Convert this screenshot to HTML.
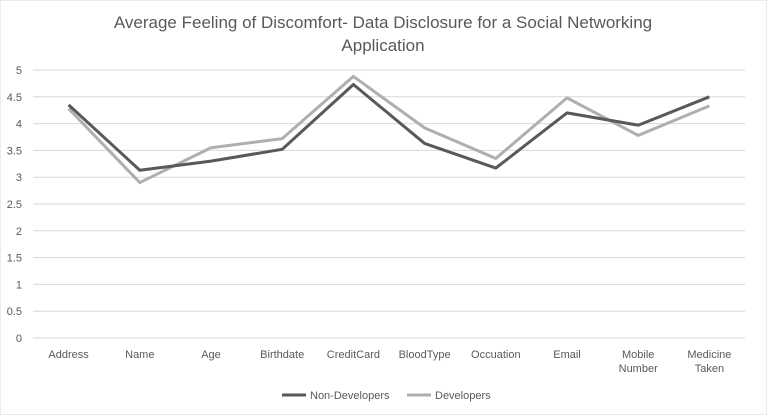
<!DOCTYPE html>
<html><head><meta charset="utf-8"><style>
body{margin:0;background:#fff;font-family:"Liberation Sans",Arial,sans-serif;}
svg text{font-family:"Liberation Sans",Arial,sans-serif;fill:#595959;}
</style></head><body>
<svg id="chart" width="767" height="415" xmlns="http://www.w3.org/2000/svg">
<rect x="0" y="0" width="767" height="415" fill="#fff" stroke="#d9d9d9"/>
<text x="383" y="28" text-anchor="middle" font-size="17">Average Feeling of Discomfort- Data Disclosure for a Social Networking</text>
<text x="383" y="51" text-anchor="middle" font-size="17">Application</text>
<g id="grid"></g><g id="series"></g><g id="xlabels"></g>
<g>
<line x1="282" y1="395" x2="306" y2="395" stroke="#595959" stroke-width="3"/>
<text x="310" y="399" font-size="11">Non-Developers</text>
<line x1="407" y1="395" x2="431" y2="395" stroke="#afafaf" stroke-width="3"/>
<text x="435" y="399" font-size="11">Developers</text>
</g>
</svg>
<script>
const categories=["Address","Name","Age","Birthdate","CreditCard","BloodType","Occuation","Email","Mobile|Number","Medicine|Taken"];
const nonDevelopers=[4.35,3.13,3.3,3.52,4.73,3.63,3.17,4.2,3.97,4.5];
const developers=[4.28,2.9,3.55,3.72,4.88,3.92,3.35,4.48,3.78,4.33];
const yTicks=[0,0.5,1,1.5,2,2.5,3,3.5,4,4.5,5];
const NS="http://www.w3.org/2000/svg";
const plotLeft=33,plotRight=745,plotTop=70,plotBottom=338;
const yScale=v=>plotBottom-(v/5)*(plotBottom-plotTop);
const step=(plotRight-plotLeft)/categories.length;
const xScale=i=>plotLeft+step*(i+0.5);
function mk(t,a,p){const e=document.createElementNS(NS,t);for(const k in a)e.setAttribute(k,a[k]);p.appendChild(e);return e;}
const grid=document.getElementById('grid');
yTicks.forEach(t=>{
 const l=mk('line',{x1:plotLeft,x2:plotRight,y1:yScale(t),y2:yScale(t),stroke:'#d9d9d9','stroke-width':1},grid);
 
 
 const tx=mk('text',{x:22,y:yScale(t)+4,'text-anchor':'end','font-size':11},grid);
 tx.textContent=String(t);
 
 
});
const xl=document.getElementById('xlabels');
categories.forEach((c,i)=>{
 c.split('|').forEach((s,j)=>{
  const t=mk('text',{x:xScale(i),y:358+j*14,'text-anchor':'middle','font-size':11},xl);
  t.textContent=s;
  
  
 });
});
const sg=document.getElementById('series');
[[developers,'#afafaf','developers-line'],[nonDevelopers,'#595959','non-developers-line']].forEach(([d,col,n])=>{
 const p=mk('polyline',{points:d.map((v,i)=>xScale(i)+','+yScale(v)).join(' '),fill:'none',stroke:col,'stroke-width':3,'stroke-linejoin':'round'},sg);
 
 
});
</script>
</body></html>
